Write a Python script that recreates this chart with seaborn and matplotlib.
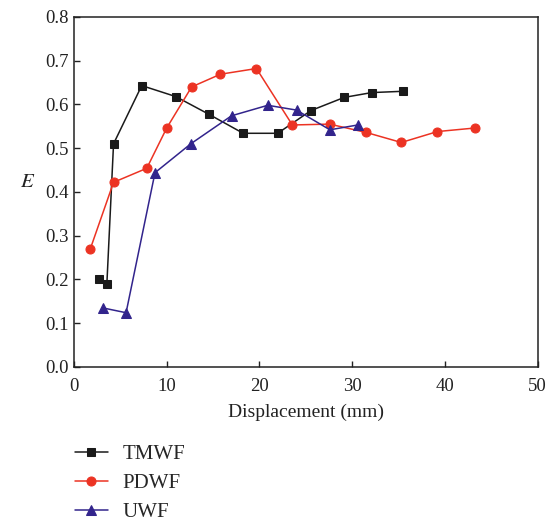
import matplotlib
matplotlib.use('Agg')
import matplotlib.pyplot as plt
import pandas
import seaborn as sns

tmwf_x = [2.65, 3.55, 4.27, 7.31, 10.97, 14.59, 18.25, 21.97, 25.56, 29.14, 32.1, 35.5]
tmwf_y = [0.200, 0.190, 0.510, 0.643, 0.618, 0.577, 0.534, 0.534, 0.586, 0.616, 0.627, 0.630]

pdwf_x = [1.75, 4.27, 7.85, 10.0, 12.69, 15.8, 19.68, 23.55, 27.56, 31.5, 35.3, 39.2, 43.2]
pdwf_y = [0.269, 0.422, 0.454, 0.546, 0.640, 0.669, 0.682, 0.553, 0.555, 0.536, 0.513, 0.538, 0.546]

uwf_x = [3.12, 5.62, 8.74, 12.6, 16.99, 20.9, 24.0, 27.6, 30.6]
uwf_y = [0.135, 0.124, 0.444, 0.510, 0.574, 0.598, 0.587, 0.542, 0.553]

series = [
    ('TMWF', tmwf_x, tmwf_y, '#1a1a1a', 's', 5.5),
    ('PDWF', pdwf_x, pdwf_y, '#ec3323', 'o', 6.5),
    ('UWF', uwf_x, uwf_y, '#32248c', '^', 7.5),
]

sns.set_style('ticks')
plt.rcParams['font.family'] = ['Liberation Serif', 'DejaVu Serif']
plt.rcParams['mathtext.fontset'] = 'stix'

fig = plt.figure(figsize=(5.56, 5.21), dpi=100)
ax = fig.add_axes([0.133, 0.2956, 0.834, 0.672])

for name, xs, ys, color, marker, ms in series:
    df = pandas.DataFrame({'x': xs, 'y': ys})
    sns.lineplot(data=df, x='x', y='y', ax=ax, color=color, marker=marker,
                 markersize=ms, markeredgecolor=color, linewidth=1.1,
                 label=name, sort=False)
handles, labels = ax.get_legend_handles_labels()
ax.get_legend().remove()

ax.set_xlim(0, 50)
ax.set_ylim(0, 0.8)
ax.set_xticks(range(0, 51, 10))
ax.set_yticks([i / 10 for i in range(9)])
ax.set_yticklabels(['%.1f' % (i / 10) for i in range(9)])
ax.tick_params(direction='in', labelsize=13.5, length=4, width=1, colors='#222222')
ax.tick_params(axis='x', pad=8)
for s in ax.spines.values():
    s.set_linewidth(1.1)
    s.set_color('#222222')
    s.set_visible(True)
ax.set_xlabel('Displacement (mm)', fontsize=14, color='#222222', labelpad=6)
ax.set_ylabel('$E$', fontsize=15, rotation=0, color='#222222', labelpad=13)

fig.legend(handles, labels, loc='upper left', bbox_to_anchor=(0.134, 0.147),
           frameon=False, fontsize=15, handlelength=1.6, handletextpad=0.7,
           labelspacing=0.45, borderaxespad=0, borderpad=0)

fig.savefig('out.png', dpi=100)
